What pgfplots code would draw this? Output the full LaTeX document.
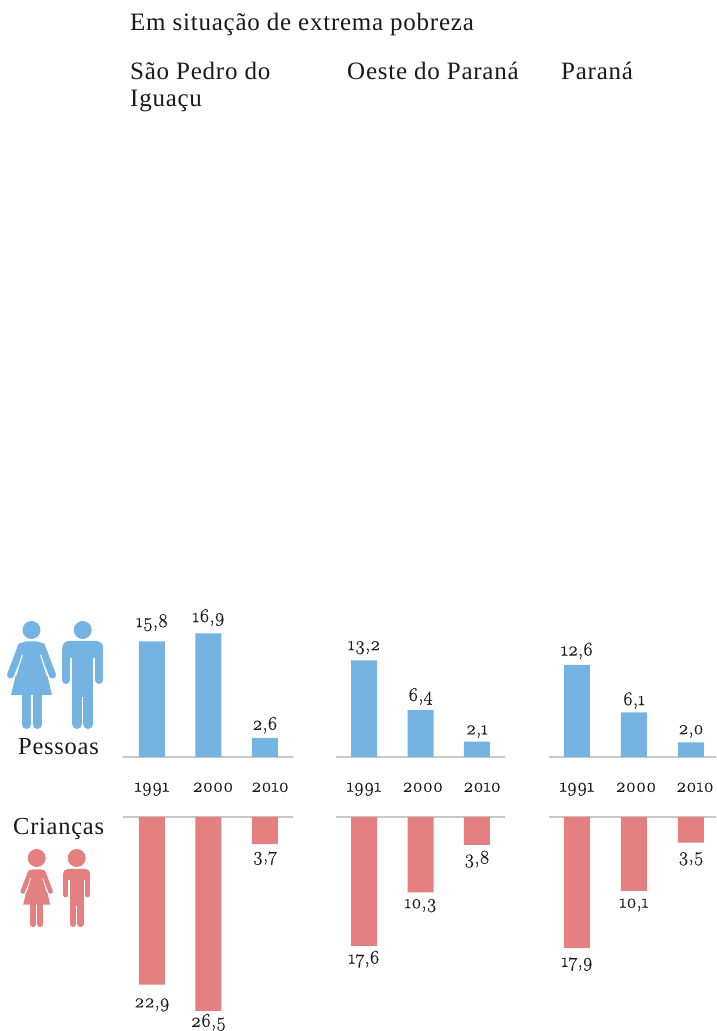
\documentclass[border=0pt]{standalone}
\usepackage{fontspec}
\setmainfont{Liberation Serif}
\newfontfamily\numfam[Numbers={OldStyle,Proportional},FakeBold=0.35]{Latin Modern Roman}
\usepackage{pgfplots}
\pgfplotsset{compat=1.18}
\definecolor{cblue}{HTML}{75B3E2}
\definecolor{cred}{HTML}{E58080}
\definecolor{cline}{HTML}{C8C8C8}
\definecolor{ctext}{HTML}{1A1A1A}
\newcommand{\numfont}{\numfam\fontsize{19.5}{22}\selectfont}
\newcommand{\txtfont}{\fontsize{25}{27}\selectfont\addfontfeatures{LetterSpace=3}}
\newcommand{\lblfont}{\fontsize{24.5}{27}\selectfont\addfontfeatures{LetterSpace=3}}
\pgfplotsset{
  panel/.style={
    scale only axis, clip=false,
    ybar, bar width=26pt, bar shift=0pt,
    axis y line=none,
    major tick style={draw=none},
    /pgf/number format/assume math mode=true,
    point meta=explicit,
    nodes near coords,
    visualization depends on={value \thisrow{s} \as \lbls},
    every node near coord/.append style={font=\numfont,text=ctext,inner sep=0pt,
      text height=12pt,text depth=4pt,yshift={(\lbls-4)*1pt},
      /pgf/number format/assume math mode=true,
      /pgf/number format/use comma,
      /pgf/number format/fixed,
      /pgf/number format/fixed zerofill,
      /pgf/number format/precision=1},
  },
  uppanel/.style={panel,
    axis x line=bottom,
    x axis line style={-,draw=cline,line width=1.4pt},
    ymin=0, ymax=18, height=131.76pt,
    xticklabels={1991,2000,2010},
    xticklabel style={font=\numfont,text=ctext,yshift=-20pt},
  },
  downpanel/.style={panel,
    axis x line=top,
    x axis line style={-,draw=cline,line width=1.4pt},
    ymin=-28, ymax=0, height=204.96pt,
    xtick=\empty,
  },
}
\newcommand{\adultwoman}[4]{%
  \fill[#4] (#1,#2-11) circle (9pt);
  \begin{scope}[shift={(#1,#2)},scale=#3]
    \fill[#4,rounded corners=#3*4pt] (-10,0.5) -- (10,0.5) -- (13,14) -- (-13,14) -- cycle;
    \fill[#4] (-9.5,8) -- (9.5,8) -- (20.5,54) -- (-20.5,54) -- cycle;
    \draw[#4,line width=#3*7pt,line cap=round] (-10,5) -- (-21,34);
    \draw[#4,line width=#3*7pt,line cap=round] (10,5) -- (21,34);
    \draw[white,line width=#3*1.1pt] (-9.2,14) -- (-15.8,35);
    \draw[white,line width=#3*1.1pt] (9.2,14) -- (15.8,35);
    \draw[#4,line width=#3*9pt,line cap=round] (-5,54) -- (-5,83.5);
    \draw[#4,line width=#3*9pt,line cap=round] (5.5,54) -- (5.5,83.5);
  \end{scope}}
\newcommand{\adultman}[4]{%
  \fill[#4] (#1,#2-11) circle (9pt);
  \begin{scope}[shift={(#1,#2)},scale=#3]
    \fill[#4,rounded corners=#3*7pt] (-20.5,0) rectangle (20.5,17);
    \fill[#4] (-10.5,10) rectangle (10.5,56);
    \draw[#4,line width=#3*8pt,line cap=round] (-16.5,10) -- (-16.5,39);
    \draw[#4,line width=#3*8pt,line cap=round] (16.5,10) -- (16.5,39);
    \draw[#4,line width=#3*10pt,line cap=round] (-5.5,50) -- (-5.5,83);
    \draw[#4,line width=#3*10pt,line cap=round] (5.5,50) -- (5.5,83);
    \draw[white,line width=#3*1.4pt] (0,58) -- (0,90);
  \end{scope}}
\begin{document}
\begin{tikzpicture}
\path[use as bounding box] (0,0) rectangle (716pt,1031pt);
\clip (0,0) rectangle (716pt,1031pt);
\begin{scope}[x=1pt,y=-1pt,shift={(0,1031pt)}]
  \node[anchor=base west,inner sep=0pt,text=ctext,font=\txtfont] at (130,31) {Em situação de extrema pobreza};
  \node[anchor=base west,inner sep=0pt,text=ctext,font=\txtfont] at (130,80) {São Pedro do};
  \node[anchor=base west,inner sep=0pt,text=ctext,font=\txtfont] at (130,107) {Iguaçu};
  \node[anchor=base west,inner sep=0pt,text=ctext,font=\txtfont] at (347,80) {Oeste do Paraná};
  \node[anchor=base west,inner sep=0pt,text=ctext,font=\txtfont] at (561,80) {Paraná};
  \node[anchor=base west,inner sep=0pt,text=ctext,font=\lblfont] at (18,755) {Pessoas};
  \node[anchor=base west,inner sep=0pt,text=ctext,font=\lblfont] at (13,835) {Crianças};
  \adultwoman{31.5}{641}{1}{cblue}
  \adultman{82.7}{641}{1}{cblue}
  \adultwoman{36.7}{869}{0.66}{cred}
  \adultman{76.7}{869}{0.66}{cred}
\end{scope}
% Sao Pedro do Iguacu
\begin{axis}[uppanel,at={(123pt,274pt)},anchor=south west,width=170pt,xmin=-0.513,xmax=2.496,xtick={0,1.08,2.09}]
\addplot[fill=cblue,draw=none] table[x=x,y=y,meta=v] {
x y v s
0 15.8 15.8 14
1 16.9 16.9 11
2 2.6 2.6 8
};
\end{axis}
\begin{axis}[downpanel,at={(123pt,214pt)},anchor=north west,width=170pt,xmin=-0.513,xmax=2.496]
\addplot[fill=cred,draw=none] table[x=x,y=y,meta=v] {
x y v s
0 -22.9 22.9 -23
1 -26.5 26.5 -16
2 -3.7 3.7 -17
};
\end{axis}
% Oeste do Parana
\begin{axis}[uppanel,at={(336pt,274pt)},anchor=south west,width=169pt,xmin=-0.496,xmax=2.496,xtick={0,1.04,2.09}]
\addplot[fill=cblue,draw=none] table[x=x,y=y,meta=v] {
x y v s
0 13.2 13.2 10
1 6.4 6.4 9
2 2.1 2.1 7
};
\end{axis}
\begin{axis}[downpanel,at={(336pt,214pt)},anchor=north west,width=169pt,xmin=-0.496,xmax=2.496]
\addplot[fill=cred,draw=none] table[x=x,y=y,meta=v] {
x y v s
0 -17.6 17.6 -18
1 -10.3 10.3 -16
2 -3.8 3.8 -19
};
\end{axis}
% Parana
\begin{axis}[uppanel,at={(549pt,274pt)},anchor=south west,width=167pt,xmin=-0.491,xmax=2.439,xtick={0,1.035,2.07}]
\addplot[fill=cblue,draw=none] table[x=x,y=y,meta=v] {
x y v s
0 12.6 12.6 9
1 6.1 6.1 7
2 2.0 2.0 8
};
\end{axis}
\begin{axis}[downpanel,at={(549pt,214pt)},anchor=north west,width=167pt,xmin=-0.491,xmax=2.439]
\addplot[fill=cred,draw=none] table[x=x,y=y,meta=v] {
x y v s
0 -17.9 17.9 -19
1 -10.1 10.1 -17
2 -3.5 3.5 -19
};
\end{axis}
\end{tikzpicture}
\end{document}
